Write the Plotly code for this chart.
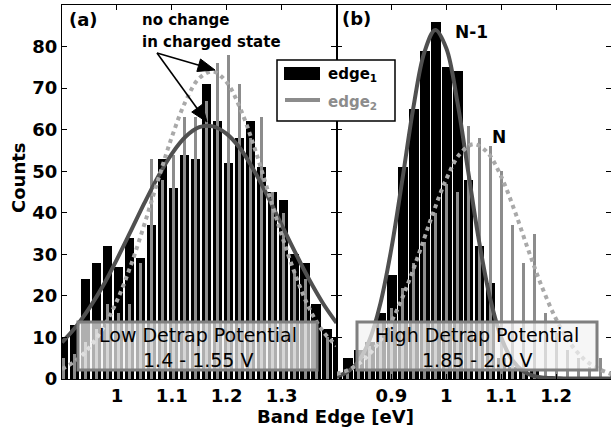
import math
import plotly.graph_objects as go

# ---------------- data ----------------
# panel (a): low detrap potential
bins_a = [0.903, 0.923, 0.943, 0.963, 0.983, 1.003, 1.023, 1.043, 1.063, 1.083,
          1.103, 1.123, 1.143, 1.163, 1.183, 1.203, 1.223, 1.243, 1.263, 1.283,
          1.303, 1.323, 1.343, 1.363, 1.383, 1.403]
edge1_a = [10, 13, 24, 28, 32, 27, 34, 29, 37, 53, 46, 54, 53, 71, 62, 52, 58, 62,
           51, 45, 43, 30, 28, 18, 12, 10]
edge2_a = [5, 6, 9, 12, 18, 16, 18, 28, 53, 48, 54, 63, 63, 67, 76, 78, 71, 58,
           63, 45, 40, 26, 24, 14, 10, 3]

fit_a_x = [0.900, 0.925, 0.950, 0.975, 1.000, 1.025, 1.050, 1.075, 1.100, 1.125,
           1.150, 1.175, 1.200, 1.225, 1.250, 1.275, 1.300, 1.325, 1.350, 1.375, 1.400]
fit1_a = [8.8, 12.5, 17.1, 22.5, 28.8, 35.5, 42.3, 48.7, 54.2, 58.3, 60.6, 60.8,
          59.0, 55.4, 50.1, 43.9, 37.1, 30.4, 24.0, 18.3, 13.5]
fit2_a = [2.4, 4.4, 7.6, 12.3, 18.8, 27.2, 37.2, 47.9, 58.2, 66.8, 72.4, 74.0,
          71.4, 65.0, 55.9, 45.3, 34.7, 25.1, 17.1, 11.5, 8.0]

# panel (b): high detrap potential
bins_b = [0.80, 0.82, 0.84, 0.86, 0.88, 0.90, 0.92, 0.94, 0.96, 0.98, 1.00, 1.02,
          1.04, 1.06, 1.08, 1.10, 1.12, 1.14, 1.16, 1.18, 1.20, 1.22, 1.24, 1.26,
          1.28, 1.30]
edge1_b = [1, 5, 7, 9, 16, 25, 51, 65, 79, 86, 75, 74, 48, 32, 23, 5, 3, 2, 2, 0,
           0, 0, 0, 0, 0, 0]
edge2_b = [1, 2, 5, 8, 14, 17, 22, 28, 33, 40, 47, 45, 61, 58, 56, 50, 37, 28, 35,
           16, 11, 7, 5, 3, 5, 2]

fit1_b_x = [0.80, 0.82, 0.84, 0.86, 0.88, 0.90, 0.92, 0.94, 0.96, 0.98, 1.00, 1.02,
            1.04, 1.06, 1.08, 1.10, 1.12, 1.14, 1.16, 1.18, 1.20, 1.22, 1.24, 1.26,
            1.28, 1.30]
fit1_b = [0.6, 1.7, 4.2, 9.3, 18.2, 31.4, 48.0, 65.3, 78.6, 84.0, 79.6, 66.8, 49.8,
          32.9, 19.3, 10.0, 4.6, 1.9, 0.7, 0.3, 0.2, 0.1, 0.1, 0.1, 0.1, 0.1]
fit2_b_x = [0.800, 0.825, 0.850, 0.875, 0.900, 0.925, 0.950, 0.975, 1.000, 1.025,
            1.050, 1.075, 1.100, 1.125, 1.150, 1.175, 1.200, 1.225, 1.250, 1.275, 1.300]
fit2_b = [1.2, 2.4, 4.7, 8.4, 13.8, 21.2, 30.1, 39.6, 48.1, 54.2, 56.5, 54.5, 48.7,
          40.3, 30.8, 21.9, 14.4, 8.7, 4.9, 2.6, 1.2]

ticks_a = [1.0, 1.1, 1.2, 1.3]
ticklabels_a = ["1", "1.1", "1.2", "1.3"]
ticks_b = [0.9, 1.0, 1.1, 1.2]
ticklabels_b = ["0.9", "1", "1.1", "1.2"]
yticks = [0, 10, 20, 30, 40, 50, 60, 70, 80]

# ---------------- style ----------------
W, H = 611, 433
PL, PT, PR, PB = 62, 5, 0, 54
PW, PH = W - PL - PR, H - PT - PB
FONT = "DejaVu Sans"
BLACK = "#000000"
GRAY = "#8c8c8c"
FIT1 = "#505050"
FIT2 = "#a9a9a9"


def fx(px):
    return (px - PL) / PW


def fy(py):
    return (PT + PH - py) / PH


fig = go.Figure()

for bins, e1, e2, xa, ya in [(bins_a, edge1_a, edge2_a, "x", "y"),
                             (bins_b, edge1_b, edge2_b, "x2", "y2")]:
    fig.add_trace(go.Bar(x=bins, y=e1, width=0.0172, marker=dict(color=BLACK, line=dict(width=0)),
                         name="edge1", xaxis=xa, yaxis=ya))
    fig.add_trace(go.Bar(x=bins, y=e2, width=0.0055, marker=dict(color=GRAY, line=dict(width=0)),
                         name="edge2", xaxis=xa, yaxis=ya))

fig.add_trace(go.Scatter(x=fit_a_x, y=fit1_a, mode="lines", line=dict(color=FIT1, width=4, shape="spline"),
                         xaxis="x", yaxis="y"))
fig.add_trace(go.Scatter(x=fit_a_x, y=fit2_a, mode="lines",
                         line=dict(color=FIT2, width=4, dash="4px,4px", shape="spline"),
                         xaxis="x", yaxis="y"))
fig.add_trace(go.Scatter(x=fit1_b_x, y=fit1_b, mode="lines", line=dict(color=FIT1, width=4, shape="spline"),
                         xaxis="x2", yaxis="y2"))
fig.add_trace(go.Scatter(x=fit2_b_x, y=fit2_b, mode="lines",
                         line=dict(color=FIT2, width=4, dash="4px,4px", shape="spline"),
                         xaxis="x2", yaxis="y2"))

axis_common = dict(showline=True, linecolor="black", linewidth=1.2, mirror="ticks",
                   ticks="inside", ticklen=5, tickwidth=1, tickcolor="black",
                   showgrid=False, zeroline=False,
                   tickfont=dict(family=FONT, size=18, color="black", weight="bold"))

fig.update_layout(
    width=W, height=H, margin=dict(l=PL, r=PR, t=PT, b=PB),
    paper_bgcolor="white", plot_bgcolor="white",
    barmode="overlay", bargap=0, showlegend=False,
    xaxis=dict(domain=[0, 0.5], range=[0.9, 1.4], tickvals=ticks_a, ticktext=ticklabels_a,
               anchor="y", **axis_common),
    yaxis=dict(domain=[0, 1], range=[0, 90], tickvals=yticks, anchor="x", **axis_common),
    xaxis2=dict(domain=[0.5, 1], range=[0.8, 1.3], tickvals=ticks_b, ticktext=ticklabels_b,
                anchor="y2", **axis_common),
    yaxis2=dict(domain=[0, 1], range=[0, 90], tickvals=yticks, anchor="x2",
                showticklabels=False, **axis_common),
)

shapes = []
# text boxes
for x0, x1 in [(78, 317), (357, 597)]:
    shapes.append(dict(type="rect", xref="paper", yref="paper", x0=fx(x0), x1=fx(x1),
                       y0=fy(370), y1=fy(322), line=dict(color="#7f7f7f", width=3),
                       fillcolor="rgba(242,242,242,0.72)", layer="above"))
# legend box
shapes.append(dict(type="rect", xref="paper", yref="paper", x0=fx(277), x1=fx(395),
                   y0=fy(121), y1=fy(60), line=dict(color="black", width=1.5),
                   fillcolor="white", layer="above"))
shapes.append(dict(type="rect", xref="paper", yref="paper", x0=fx(284), x1=fx(320),
                   y0=fy(80), y1=fy(67), line=dict(width=0), fillcolor=BLACK, layer="above"))
shapes.append(dict(type="line", xref="paper", yref="paper", x0=fx(285), x1=fx(320),
                   y0=fy(100), y1=fy(100), line=dict(color=GRAY, width=4), layer="above"))

# arrows (tail -> tip) pointing at the two fit maxima of panel (a)
tail = (157, 53)
for tip in [(215, 70), (207, 122)]:
    dx, dy = tip[0] - tail[0], tip[1] - tail[1]
    n = math.hypot(dx, dy)
    ux, uy = dx / n, dy / n
    hl, hw = 17, 6.5
    bx, by = tip[0] - hl * ux, tip[1] - hl * uy
    shapes.append(dict(type="line", xref="paper", yref="paper", x0=fx(tail[0]), y0=fy(tail[1]),
                       x1=fx(bx + 3 * ux), y1=fy(by + 3 * uy), line=dict(color="black", width=1.6),
                       layer="above"))
    p1 = (bx - hw * uy, by + hw * ux)
    p2 = (bx + hw * uy, by - hw * ux)
    path = "M {},{} L {},{} L {},{} Z".format(fx(tip[0]), fy(tip[1]), fx(p1[0]), fy(p1[1]),
                                                fx(p2[0]), fy(p2[1]))
    shapes.append(dict(type="path", xref="paper", yref="paper", path=path,
                       fillcolor="black", line=dict(color="black", width=1), layer="above"))
fig.update_layout(shapes=shapes)


def txt(s, px, py, size, bold=True, xanchor="center", color="black", angle=0):
    return dict(text=s, xref="paper", yref="paper", x=fx(px), y=fy(py), xanchor=xanchor,
                yanchor="middle", showarrow=False, textangle=angle,
                font=dict(family=FONT, size=size, color=color, weight="bold" if bold else "normal"))


ann = [
    txt("(a)", 67, 19, 18, xanchor="left"),
    txt("(b)", 340, 18, 18, xanchor="left"),
    txt("no change", 140, 20, 15, xanchor="left"),
    txt("in charged state", 140, 42, 15, xanchor="left"),
    txt("N-1", 471, 32, 17),
    txt("N", 499, 137, 17),
    txt("Low Detrap Potential", 197.5, 335, 19, bold=False),
    txt("1.4 - 1.55 V", 198.5, 360, 19, bold=False),
    txt("High Detrap Potential", 477, 335, 19, bold=False),
    txt("1.85 - 2.0 V", 477, 360, 19, bold=False),
    txt("Band Edge [eV]", 335, 416, 18),
    txt("Counts", 19, 178, 18, angle=-90),
    txt("edge<sub>1</sub>", 326, 75, 15, xanchor="left"),
    txt("edge<sub>2</sub>", 326, 102, 15, xanchor="left", color=GRAY),
]
fig.update_layout(annotations=ann)

fig.write_html("out.html")
